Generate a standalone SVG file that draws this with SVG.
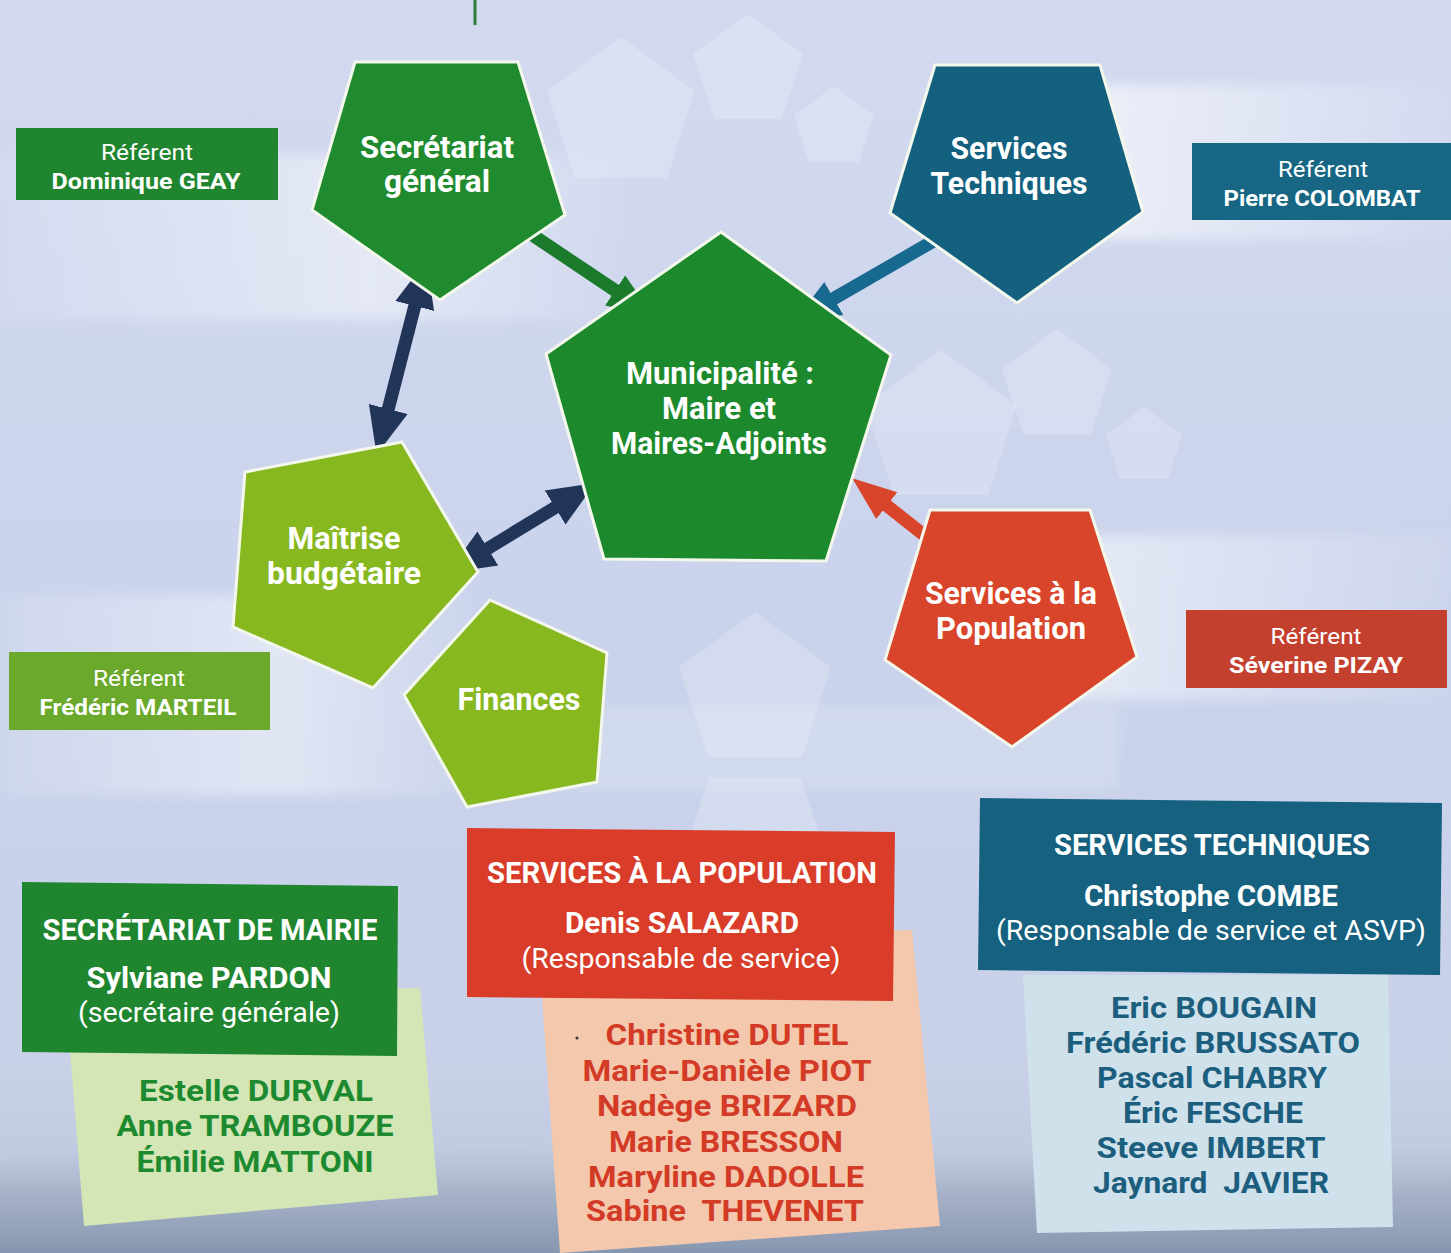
<svg xmlns="http://www.w3.org/2000/svg" width="1451" height="1253" viewBox="0 0 1451 1253">
<defs>
<style>
text{font-family:Roboto,"Open Sans","Liberation Sans",sans-serif;text-anchor:middle}
.pl{font-size:31px;font-weight:bold;fill:#fff}
.rf{font-size:22px;fill:#fff}
.rn{font-size:22px;font-weight:bold;fill:#fff}
.hd{font-size:29px;font-weight:bold;fill:#fff}
.sn{font-size:29px;font-weight:bold;fill:#fff}
.sub{font-size:27px;fill:#fff}
.nm{font-size:29px;font-weight:bold}
.pent{stroke:#f4f8ec;stroke-width:3;stroke-linejoin:miter}
.ghost{fill:#fff;opacity:0.2}
.shaft{stroke-width:13;fill:none}
</style>
<linearGradient id="bg" x1="0" y1="0" x2="0" y2="1">
<stop offset="0" stop-color="#d3daef"/>
<stop offset="0.5" stop-color="#cad3ec"/>
<stop offset="0.85" stop-color="#c8d1e8"/>
<stop offset="1" stop-color="#b7c3da"/>
</linearGradient>
<linearGradient id="bandR" x1="0" y1="0" x2="1" y2="0">
<stop offset="0" stop-color="#fff" stop-opacity="0.6"/>
<stop offset="1" stop-color="#fff" stop-opacity="0.05"/>
</linearGradient>
<linearGradient id="bandL" x1="0" y1="0" x2="1" y2="0">
<stop offset="0" stop-color="#fff" stop-opacity="0.1"/>
<stop offset="0.6" stop-color="#fff" stop-opacity="0.45"/>
<stop offset="1" stop-color="#fff" stop-opacity="0.05"/>
</linearGradient>
<linearGradient id="land" x1="0" y1="0" x2="0" y2="1">
<stop offset="0" stop-color="#b9c4d8" stop-opacity="0"/>
<stop offset="0.4" stop-color="#a9b5cb"/>
<stop offset="1" stop-color="#8796b0"/>
</linearGradient>
<filter id="soft" x="-10%" y="-30%" width="120%" height="160%"><feGaussianBlur stdDeviation="6"/></filter>
<marker id="hGreen" markerUnits="userSpaceOnUse" viewBox="0 -20 48 40" markerWidth="48" markerHeight="40" refX="1" refY="0" orient="auto"><path d="M0,-18 L46,0 L0,18 z" fill="#1b7a2c"/></marker>
<marker id="hBlue" markerUnits="userSpaceOnUse" viewBox="0 -20 48 40" markerWidth="48" markerHeight="40" refX="1" refY="0" orient="auto"><path d="M0,-19 L46,0 L0,19 z" fill="#17698f"/></marker>
<marker id="hRed" markerUnits="userSpaceOnUse" viewBox="0 -20 48 40" markerWidth="48" markerHeight="40" refX="1" refY="0" orient="auto"><path d="M0,-17 L44,0 L0,17 z" fill="#d8452b"/></marker>
<marker id="hNavy" markerUnits="userSpaceOnUse" viewBox="0 -21 50 42" markerWidth="50" markerHeight="42" refX="1" refY="0" orient="auto-start-reverse"><path d="M0,-20 L47,0 L0,20 z" fill="#213559"/></marker>
</defs>

<!-- background -->
<rect x="0" y="0" width="1451" height="1253" fill="url(#bg)"/>
<g filter="url(#soft)">
<rect x="0" y="155" width="620" height="165" fill="url(#bandL)"/>
<rect x="1085" y="85" width="366" height="155" fill="url(#bandR)"/>
<rect x="1000" y="535" width="451" height="165" fill="url(#bandR)"/>
<rect x="0" y="595" width="470" height="200" fill="url(#bandL)"/>
<rect x="560" y="705" width="560" height="85" fill="#fff" opacity="0.15"/>
</g>
<g id="ghosts">
<polygon class="ghost" points="621,37 695,91 667,178 575,178 547,91"/>
<polygon class="ghost" points="748,14 803,54 782,119 714,119 693,54"/>
<polygon class="ghost" points="834,86 874,115 859,162 809,162 794,115"/>
<polygon class="ghost" points="941,350 1017,405 988,495 894,495 865,405"/>
<polygon class="ghost" points="1057,329 1112,369 1091,434 1023,434 1002,369"/>
<polygon class="ghost" points="1144,407 1182,435 1168,479 1120,479 1106,435"/>
<polygon class="ghost" points="755,612 831,667 802,757 708,757 679,667"/>
<polygon class="ghost" points="755,918 681,864 709,777 801,777 829,864"/>
</g>
<path d="M0,1160 C120,1140 220,1170 330,1150 C450,1130 560,1165 700,1150 C840,1135 960,1170 1100,1150 C1240,1132 1350,1160 1451,1145 L1451,1253 L0,1253 Z" fill="url(#land)"/>
<line x1="475" y1="0" x2="475" y2="25" stroke="#2f7d3b" stroke-width="3"/>

<!-- connectors -->
<g id="connectors">
<line class="shaft" x1="513" y1="222" x2="616" y2="291" stroke="#1b7a2c" marker-end="url(#hGreen)"/>
<line class="shaft" x1="937" y1="239" x2="833" y2="299" stroke="#17698f" marker-end="url(#hBlue)"/>
<line class="shaft" x1="929" y1="539" x2="886" y2="505" stroke="#d8452b" marker-end="url(#hRed)"/>
<line class="shaft" x1="415" y1="305" x2="388" y2="410" stroke="#213559" marker-start="url(#hNavy)" marker-end="url(#hNavy)"/>
<line class="shaft" x1="487" y1="549" x2="556" y2="507" stroke="#213559" marker-start="url(#hNavy)" marker-end="url(#hNavy)"/>
</g>

<!-- pentagon nodes -->
<g id="secretariat-general">
<polygon class="pent" points="355,62 518,62 565,215 440,300 312,210" fill="#1f8a2e"/>
<text class="pl" x="437" y="158" textLength="154" lengthAdjust="spacingAndGlyphs">Secrétariat</text>
<text class="pl" x="437" y="192" textLength="106" lengthAdjust="spacingAndGlyphs">général</text>
</g>
<g id="services-techniques">
<polygon class="pent" points="935,65 1100,65 1143,212 1017,303 890,213" fill="#14617f"/>
<text class="pl" x="1009" y="159" textLength="117" lengthAdjust="spacingAndGlyphs">Services</text>
<text class="pl" x="1009" y="194" textLength="157" lengthAdjust="spacingAndGlyphs">Techniques</text>
</g>
<g id="municipalite">
<polygon class="pent" points="721,232 891,355 826,561 604,559 546,354" fill="#1c8a2c"/>
<text class="pl" x="720" y="384" textLength="188" lengthAdjust="spacingAndGlyphs">Municipalité :</text>
<text class="pl" x="719" y="419" textLength="114" lengthAdjust="spacingAndGlyphs">Maire et</text>
<text class="pl" x="719" y="454" textLength="216" lengthAdjust="spacingAndGlyphs">Maires-Adjoints</text>
</g>
<g id="maitrise-budgetaire">
<polygon class="pent" points="245,472 402,442 478,572 373,688 233,627" fill="#87b81f"/>
<text class="pl" x="344" y="549" textLength="113" lengthAdjust="spacingAndGlyphs">Maîtrise</text>
<text class="pl" x="344" y="584" textLength="154" lengthAdjust="spacingAndGlyphs">budgétaire</text>
</g>
<g id="finances">
<polygon class="pent" points="490,600 607,653 597,782 467,807 404,695" fill="#87b81f"/>
<text class="pl" x="519" y="710" textLength="123" lengthAdjust="spacingAndGlyphs">Finances</text>
</g>
<g id="services-population">
<polygon class="pent" points="930,510 1090,510 1137,657 1012,747 885,660" fill="#d9452a"/>
<text class="pl" x="1011" y="604" textLength="172" lengthAdjust="spacingAndGlyphs">Services à la</text>
<text class="pl" x="1011" y="639" textLength="150" lengthAdjust="spacingAndGlyphs">Population</text>
</g>

<!-- referent labels -->
<g id="referent-geay">
<rect x="16" y="128" width="262" height="72" fill="#1f862f"/>
<text class="rf" x="147" y="160" textLength="92" lengthAdjust="spacingAndGlyphs">Référent</text>
<text class="rn" x="146" y="189" textLength="189" lengthAdjust="spacingAndGlyphs">Dominique GEAY</text>
</g>
<g id="referent-colombat">
<rect x="1192" y="143" width="259" height="77" fill="#176683"/>
<text class="rf" x="1323" y="177" textLength="90" lengthAdjust="spacingAndGlyphs">Référent</text>
<text class="rn" x="1322" y="206" textLength="197" lengthAdjust="spacingAndGlyphs">Pierre COLOMBAT</text>
</g>
<g id="referent-marteil">
<rect x="9" y="652" width="261" height="78" fill="#6aa92b"/>
<text class="rf" x="139" y="686" textLength="92" lengthAdjust="spacingAndGlyphs">Référent</text>
<text class="rn" x="138" y="715" textLength="197" lengthAdjust="spacingAndGlyphs">Frédéric MARTEIL</text>
</g>
<g id="referent-pizay">
<rect x="1186" y="610" width="261" height="78" fill="#c4402e"/>
<text class="rf" x="1316" y="644" textLength="91" lengthAdjust="spacingAndGlyphs">Référent</text>
<text class="rn" x="1316" y="673" textLength="174" lengthAdjust="spacingAndGlyphs">Séverine PIZAY</text>
</g>

<!-- bottom team boxes -->
<g id="team-secretariat">
<polygon points="66,1000 420,988 438,1195 84,1226" fill="#d4e6b6"/>
<polygon points="22,882 398,886 397,1056 22,1052" fill="#1f862f"/>
<text class="hd" x="210" y="940" textLength="335" lengthAdjust="spacingAndGlyphs">SECRÉTARIAT DE MAIRIE</text>
<text class="sn" x="209" y="988" textLength="245" lengthAdjust="spacingAndGlyphs">Sylviane PARDON</text>
<text class="sub" x="209" y="1022" textLength="262" lengthAdjust="spacingAndGlyphs">(secrétaire générale)</text>
<text class="nm" fill="#1e8a30" x="256" y="1101" textLength="234" lengthAdjust="spacingAndGlyphs">Estelle DURVAL</text>
<text class="nm" fill="#1e8a30" x="255" y="1136" textLength="277" lengthAdjust="spacingAndGlyphs">Anne TRAMBOUZE</text>
<text class="nm" fill="#1e8a30" x="255" y="1172" textLength="237" lengthAdjust="spacingAndGlyphs">Émilie MATTONI</text>
</g>
<g id="team-population">
<polygon points="538,940 912,930 940,1226 560,1253" fill="#f4c8ad"/>
<polygon points="467,828 895,832 893,1001 467,997" fill="#d93c28"/>
<text class="hd" x="682" y="883" textLength="390" lengthAdjust="spacingAndGlyphs">SERVICES À LA POPULATION</text>
<text class="sn" x="682" y="933" textLength="234" lengthAdjust="spacingAndGlyphs">Denis SALAZARD</text>
<text class="sub" x="681" y="968" textLength="319" lengthAdjust="spacingAndGlyphs">(Responsable de service)</text>
<circle cx="577" cy="1038" r="1.5" fill="#333"/>
<text class="nm" fill="#d33b27" x="727" y="1045" textLength="243" lengthAdjust="spacingAndGlyphs">Christine DUTEL</text>
<text class="nm" fill="#d33b27" x="727" y="1081" textLength="289" lengthAdjust="spacingAndGlyphs">Marie-Danièle PIOT</text>
<text class="nm" fill="#d33b27" x="727" y="1116" textLength="260" lengthAdjust="spacingAndGlyphs">Nadège BRIZARD</text>
<text class="nm" fill="#d33b27" x="726" y="1152" textLength="234" lengthAdjust="spacingAndGlyphs">Marie BRESSON</text>
<text class="nm" fill="#d33b27" x="726" y="1187" textLength="276" lengthAdjust="spacingAndGlyphs">Maryline DADOLLE</text>
<text class="nm" fill="#d33b27" x="725" y="1221" textLength="278" lengthAdjust="spacingAndGlyphs" xml:space="preserve">Sabine  THEVENET</text>
</g>
<g id="team-techniques">
<polygon points="1023,975 1388,975 1393,1227 1037,1233" fill="#cfe1eb"/>
<polygon points="980,798 1442,803 1440,975 978,970" fill="#16617f"/>
<text class="hd" x="1212" y="855" textLength="316" lengthAdjust="spacingAndGlyphs">SERVICES TECHNIQUES</text>
<text class="sn" x="1211" y="906" textLength="254" lengthAdjust="spacingAndGlyphs">Christophe COMBE</text>
<text class="sub" x="1211" y="940" textLength="430" lengthAdjust="spacingAndGlyphs">(Responsable de service et ASVP)</text>
<text class="nm" fill="#1c5e7e" x="1214" y="1018" textLength="206" lengthAdjust="spacingAndGlyphs">Eric BOUGAIN</text>
<text class="nm" fill="#1c5e7e" x="1213" y="1053" textLength="294" lengthAdjust="spacingAndGlyphs">Frédéric BRUSSATO</text>
<text class="nm" fill="#1c5e7e" x="1212" y="1088" textLength="230" lengthAdjust="spacingAndGlyphs">Pascal CHABRY</text>
<text class="nm" fill="#1c5e7e" x="1213" y="1123" textLength="180" lengthAdjust="spacingAndGlyphs">Éric FESCHE</text>
<text class="nm" fill="#1c5e7e" x="1211" y="1158" textLength="229" lengthAdjust="spacingAndGlyphs">Steeve IMBERT</text>
<text class="nm" fill="#1c5e7e" x="1211" y="1193" textLength="236" lengthAdjust="spacingAndGlyphs" xml:space="preserve">Jaynard  JAVIER</text>
</g>
</svg>
